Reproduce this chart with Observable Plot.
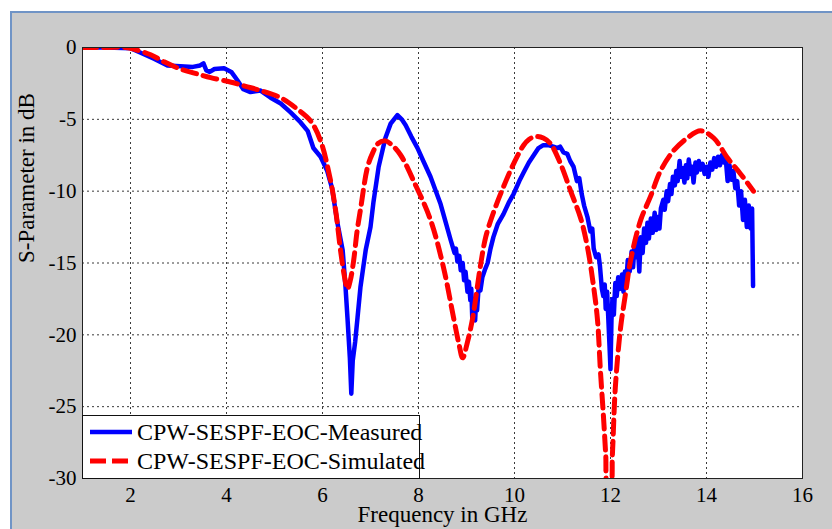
<!DOCTYPE html>
<!-- S-parameter chart, serif version v9 -->
<html lang="en"><head><meta charset="utf-8"><title>S-Parameter chart</title>
<style>
  body { margin: 0; padding: 0; background: #ffffff; font-family: 'Liberation Serif'; }
  #bg { position: absolute; left: 10px; top: 11px; width: 822px; height: 518px; background: #cbcbcb;
        border-top: 2px solid #7094c6; border-left: 2px solid #7094c6; }
  #chart { position: absolute; left: 0; top: 0; }
  #legend { position: absolute; left: 82px; top: 415px; }
</style>
<script src="https://cdn.jsdelivr.net/npm/d3@7"></script>
<script src="https://cdn.jsdelivr.net/npm/@observablehq/plot@0.6"></script>
</head>
<body>
<div id="bg"></div>
<div id="chart"></div>
<div id="legend"></div>
<script>
const xTicks = [2, 4, 6, 8, 10, 12, 14, 16];
const yTicks = [0, -5, -10, -15, -20, -25, -30];
const seriesNames = ["CPW-SESPF-EOC-Measured", "CPW-SESPF-EOC-Simulated"];
const xLabel = "Frequency in GHz";
const yLabel = "S-Parameter in dB";

const measuredFreq = [1.0,1.5,2.0,2.2,2.5,2.77,3.04,3.3,3.45,3.52,3.58,3.65,3.75,3.95,4.1,4.23,4.35,4.5,4.6,4.71,4.92,5.13,5.33,5.54,5.69,5.81,5.96,6.1,6.2,6.31,6.42,6.48,6.52,6.57,6.6,6.63,6.68,6.73,6.79,6.9,7.0,7.06,7.17,7.31,7.42,7.56,7.65,7.73,7.85,7.98,8.1,8.25,8.35,8.46,8.57,8.67,
8.75,8.78,8.81,8.85,8.88,8.92,8.95,8.98,9.02,9.05,9.08,9.1,9.12,9.15,9.18,9.2,9.22,9.25,9.29,9.33,9.38,9.44,9.5,9.56,9.65,9.77,9.88,9.98,10.1,10.19,10.3,10.4,10.5,10.6,10.7,10.81,10.9,10.95,11.02,11.1,11.16,11.23,11.3,11.35,11.4,11.45,11.52,11.58,11.62,11.65,11.7,11.75,11.78,11.82,11.85,11.88,11.9,11.93,11.96,11.98,12.0,12.02,12.04,12.07,12.1,12.13,12.16,12.2,12.24,12.27,12.3,12.33,12.36,12.4,12.44,12.47,12.5,12.53,12.56,12.6,12.63,12.67,12.7,12.74,12.77,12.8,12.84,12.88,12.92,12.95,12.98,13.02,13.05,13.1,13.13,13.17,13.2,13.24,13.27,13.3,13.34,13.37,13.4,13.44,13.47,13.5,13.54,13.57,13.6,13.63,13.67,13.7,13.73,13.77,13.8,13.84,13.88,13.92,13.96,14.0,14.04,14.08,14.12,14.16,14.2,14.24,14.28,14.32,14.36,14.4,14.44,14.48,14.52,14.56,14.6,14.64,14.68,14.72,14.76,14.8,14.84,14.88,14.92,14.95,14.97];
const measuredDb = [0,0,-0.05,-0.35,-0.8,-1.25,-1.3,-1.35,-1.25,-1.1,-1.6,-1.7,-1.5,-1.45,-1.7,-2.3,-2.9,-3.1,-3.05,-3.0,-3.5,-3.9,-4.5,-5.2,-5.8,-7.0,-7.6,-8.6,-9.8,-12.2,-14.1,-16.7,-18.8,-21.6,-24.1,-21.8,-20.5,-18.8,-16.7,-14.1,-12.5,-10.8,-8.3,-6.3,-5.3,-4.7,-5.0,-5.4,-6.2,-7.0,-7.9,-9.0,-9.9,-10.9,-12.2,-13.4,
-14.3,-14.0,-14.9,-14.5,-15.5,-15.0,-16.2,-15.6,-17.0,-16.3,-17.6,-16.8,-18.8,-17.5,-19.0,-17.6,-18.3,-16.8,-16.9,-16.0,-15.5,-15.0,-14.0,-13.2,-12.3,-11.6,-10.8,-10.2,-9.3,-8.7,-8.0,-7.5,-7.0,-6.8,-6.8,-6.9,-7.0,-6.9,-7.3,-7.4,-7.9,-8.3,-9.3,-9.1,-10.2,-11.0,-11.8,-12.8,-12.6,-14.0,-14.6,-14.4,-15.2,-16.8,-17.3,-16.5,-18.2,-17.0,-19.3,-20.8,-22.4,-19.0,-17.5,-18.6,-16.4,-17.3,-16.0,-16.8,-15.8,-17.0,-15.6,-16.3,-14.8,-15.6,-14.2,-15.3,-13.8,-14.6,-13.3,-15.6,-13.2,-14.3,-12.6,-13.6,-12.2,-13.3,-11.9,-12.9,-11.5,-12.7,-11.8,-12.6,-11.2,-10.6,-11.3,-10.0,-10.7,-9.5,-10.2,-9.0,-9.6,-8.6,-9.3,-7.9,-9.0,-8.4,-9.4,-8.2,-9.1,-7.8,-8.8,-8.3,-9.4,-8.0,-8.7,-7.9,-8.5,-8.1,-8.8,-8.3,-9.0,-8.0,-8.5,-7.7,-8.3,-7.6,-8.2,-7.5,-8.0,-7.7,-9.3,-8.2,-9.2,-8.6,-9.8,-9.3,-11.0,-10.0,-12.0,-10.6,-12.5,-11.0,-12.6,-11.2,-16.6];

const simulatedFreq = [1.0,1.5,1.9,2.1,2.42,2.7,3.04,3.35,3.67,4.08,4.4,4.71,5.13,5.48,5.75,5.96,6.17,6.28,6.375,6.45,6.52,6.58,6.65,6.72,6.79,6.94,7.05,7.15,7.31,7.45,7.63,7.9,8.25,8.52,8.73,8.84,8.92,9.02,9.13,9.29,9.4,9.56,9.77,9.98,10.19,10.3,10.44,10.6,10.75,10.96,11.17,11.38,11.52,11.65,11.73,11.79,11.85,11.9,11.94,12.0,12.04,12.1,12.21,12.31,12.42,12.63,12.83,13.04,13.31,13.6,13.875,14.15,14.44,14.71,14.98];
const simulatedDb = [0,0,0,-0.15,-0.5,-1.0,-1.5,-1.8,-2.1,-2.4,-2.7,-3.0,-3.5,-4.3,-5.1,-6.5,-9.3,-11.5,-14.1,-15.8,-16.8,-16.2,-14.8,-12.8,-11.3,-8.3,-7.3,-6.7,-6.5,-6.8,-7.5,-9.3,-12.0,-15.3,-18.8,-20.6,-21.6,-20.5,-18.8,-15.2,-13.2,-11.5,-9.7,-8.1,-6.8,-6.4,-6.2,-6.3,-6.7,-8.1,-10.0,-11.9,-13.9,-16.7,-19.0,-22.5,-25.5,-28.3,-30.5,-30.5,-28.3,-23.7,-19.5,-17.2,-14.8,-12.0,-10.4,-8.6,-7.2,-6.3,-5.8,-6.3,-7.7,-8.8,-10.0];

const measured = measuredFreq.map((f, i) => ({f, db: measuredDb[i]}));
const simulated = simulatedFreq.map((f, i) => ({f, db: simulatedDb[i]}));

const fmt = d => (d < 0 ? "-" + Math.abs(d) : String(d));
const serifFamily = "'Liberation Serif'";

const chart = Plot.plot({
  width: 832,
  height: 529,
  marginLeft: 82,
  marginRight: 30,
  marginTop: 47,
  marginBottom: 51,
  style: {background: "transparent", fontFamily: serifFamily, fontSize: "21px", color: "black", overflow: "visible"},
  x: {domain: [1, 16]},
  y: {domain: [-30, 0]},
  marks: [
    Plot.frame({fill: "white", stroke: null}),
    Plot.gridX(xTicks.filter(t => t < 16), {stroke: "#3a3a3a", strokeOpacity: 1, strokeWidth: 1, strokeDasharray: "2,3"}),
    Plot.gridY(yTicks.filter(t => t < 0 && t > -30), {stroke: "#3a3a3a", strokeOpacity: 1, strokeWidth: 1, strokeDasharray: "2,3"}),
    Plot.line(measured, {x: "f", y: "db", stroke: "#0000ff", strokeWidth: 4.5, clip: true, strokeLinejoin: "round"}),
    Plot.line(simulated, {x: "f", y: "db", stroke: "#ff0000", strokeWidth: 5, strokeDasharray: "14,7", curve: "catmull-rom", clip: true}),
    Plot.frame({stroke: "#222", strokeWidth: 1}),
    Plot.axisX(xTicks, {tickSize: 0, tickPadding: 9, fontSize: 21, label: null, tickFormat: fmt}),
    Plot.axisY(yTicks, {tickSize: 0, tickPadding: 6, fontSize: 21, label: null, tickFormat: fmt}),
    Plot.text([xLabel], {frameAnchor: "bottom", dy: 43, fontSize: 23, fill: "black"}),
    Plot.text([yLabel], {frameAnchor: "left", dx: -56, rotate: -90, fontSize: 23, fill: "black"})
  ]
});
chart.querySelectorAll("text").forEach(t => t.setAttribute("font-family", serifFamily));
document.getElementById("chart").appendChild(chart);

// Legend
const W = 337, H = 63;
const lg = d3.select("#legend").append("svg").attr("width", W + 1).attr("height", H + 1)
  .style("overflow", "visible");
lg.append("rect").attr("x", 0.5).attr("y", 0.5).attr("width", W).attr("height", H)
  .attr("fill", "white").attr("stroke", "#111").attr("stroke-width", 1);
const rows = [
  {name: seriesNames[0], color: "#0000ff", dash: null, width: 4.5, y: 17},
  {name: seriesNames[1], color: "#ff0000", dash: "16,6", width: 5, y: 46}
];
rows.forEach(r => {
  const ln = lg.append("line").attr("x1", 8).attr("x2", r.dash ? 46 : 50).attr("y1", r.y).attr("y2", r.y)
    .attr("stroke", r.color).attr("stroke-width", r.width);
  if (r.dash) ln.attr("stroke-dasharray", r.dash);
  lg.append("text").attr("x", 55).attr("y", r.y + 8).attr("font-size", 24)
    .attr("font-family", serifFamily).attr("fill", "black").text(r.name);
});
</script>
</body>
</html>
